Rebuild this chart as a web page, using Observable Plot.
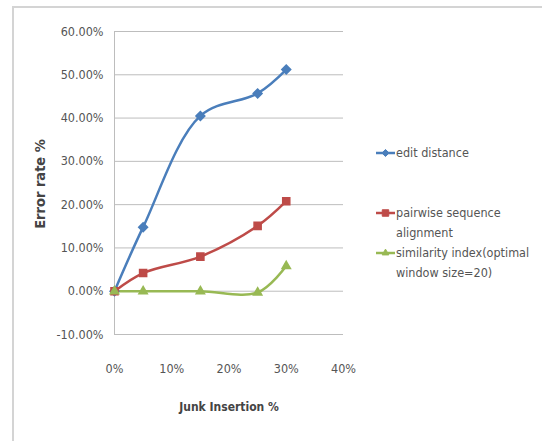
<!DOCTYPE html>
<html>
<head>
<meta charset="utf-8">
<script src="https://cdn.jsdelivr.net/npm/d3@7"></script>
<script src="https://cdn.jsdelivr.net/npm/@observablehq/plot@0.6"></script>
<style>
  html, body { margin: 0; padding: 0; background: #fff; }
  #wrap { position: relative; width: 542px; height: 441px; overflow: hidden; }
  #frame { position: absolute; left: 12px; top: 6px; width: 560px; height: 460px;
           border-left: 2px solid #d4d4d4; border-top: 2px solid #d4d4d4; }
  #chart { position: absolute; left: 0; top: 0; }
  .legend { position: absolute; left: 376px; top: 0; font: 12.5px "DejaVu Sans Condensed", "Liberation Sans Narrow", sans-serif; color: #555; line-height: 20px; }
  .item { position: absolute; left: 0; white-space: nowrap; }
  .item svg { position: absolute; left: 0; top: 0; }
  .item span { position: absolute; left: 20px; top: 0; }
</style>
</head>
<body>
<div id="wrap">
  <div id="frame"></div>
  <div id="chart"></div>
  <div class="legend" id="legend"></div>
</div>
<script>
// Junk insertion levels (%)
const junk = [0, 5, 15, 25, 30];
// Error rates (%) per method
const editDistance = [0, 14.8, 40.5, 45.7, 51.2];
const pairwise = [0, 4.2, 8.0, 15.1, 20.8];
const similarity = [0, 0, 0, -0.3, 5.8];

const seriesNames = ["edit distance", "pairwise sequence alignment", "similarity index(optimal window size=20)"];
const legendLines = [["edit distance"], ["pairwise sequence", "alignment"], ["similarity index(optimal", "window size=20)"]];
const colors = ["#4A7EBB", "#BE4B48", "#98B954"];
const symbols = ["diamond2", "square", "triangle2"];

const yTicks = [-10, 0, 10, 20, 30, 40, 50, 60];
const xTicks = [0, 10, 20, 30, 40];

const rows = [];
[editDistance, pairwise, similarity].forEach((vals, s) => {
  vals.forEach((v, i) => rows.push({series: seriesNames[s], x: junk[i], y: v}));
});

const font = '"DejaVu Sans Condensed", "Liberation Sans Narrow", sans-serif';

const chart = Plot.plot({
  width: 542,
  height: 441,
  marginLeft: 114,
  marginRight: 199,
  marginTop: 31,
  marginBottom: 107,
  style: {fontFamily: font, fontSize: "12.5px", color: "#555", background: "transparent"},
  x: {domain: [0, 40], axis: null},
  y: {domain: [-10, 60], axis: null},
  color: {domain: seriesNames, range: colors},
  symbol: {domain: seriesNames, range: symbols},
  marks: [
    Plot.ruleY(yTicks, {stroke: "#bdbdbd", strokeWidth: 1}),
    Plot.ruleX([0], {stroke: "#bdbdbd", strokeWidth: 1}),
    Plot.text(yTicks, {x: 0, y: d => d, text: d => d.toFixed(2) + "%", textAnchor: "end", dx: -11, fill: "#555"}),
    Plot.text(xTicks, {x: d => d, y: -10, text: d => d + "%", dy: 34, fill: "#555"}),
    Plot.text(["Junk Insertion %"], {x: 20, y: -10, dy: 73, fontWeight: "bold", fill: "#444", fontSize: 12}),
    Plot.text(["Error rate %"], {frameAnchor: "left", textAnchor: "middle", dx: -74, dy: 1, rotate: -90, fontWeight: "bold", fill: "#444", fontSize: 14.5}),
    Plot.line(rows, {x: "x", y: "y", z: "series", stroke: "series", strokeWidth: 2.5, curve: "catmull-rom"}),
    Plot.dot(rows, {x: "x", y: "y", fill: "series", stroke: "series", symbol: "series", r: 4})
  ]
});
document.getElementById("chart").appendChild(chart);

// Legend entries
const legendTops = [143, 203, 243];
const legend = document.getElementById("legend");
seriesNames.forEach((name, i) => {
  const item = document.createElement("div");
  item.className = "item";
  item.style.top = legendTops[i] + "px";
  const sym = d3.symbol().type([d3.symbolDiamond2, d3.symbolSquare, d3.symbolTriangle2][i]).size(i === 1 ? 42 : 32)();
  item.innerHTML = `<svg width="20" height="20"><line x1="0" x2="19" y1="10" y2="10" stroke="${colors[i]}" stroke-width="2.5"/><path transform="translate(9.5,10)" d="${sym}" fill="${colors[i]}" stroke="${colors[i]}"/></svg><span>${legendLines[i].join("<br>")}</span>`;
  legend.appendChild(item);
});
</script>
</body>
</html>
